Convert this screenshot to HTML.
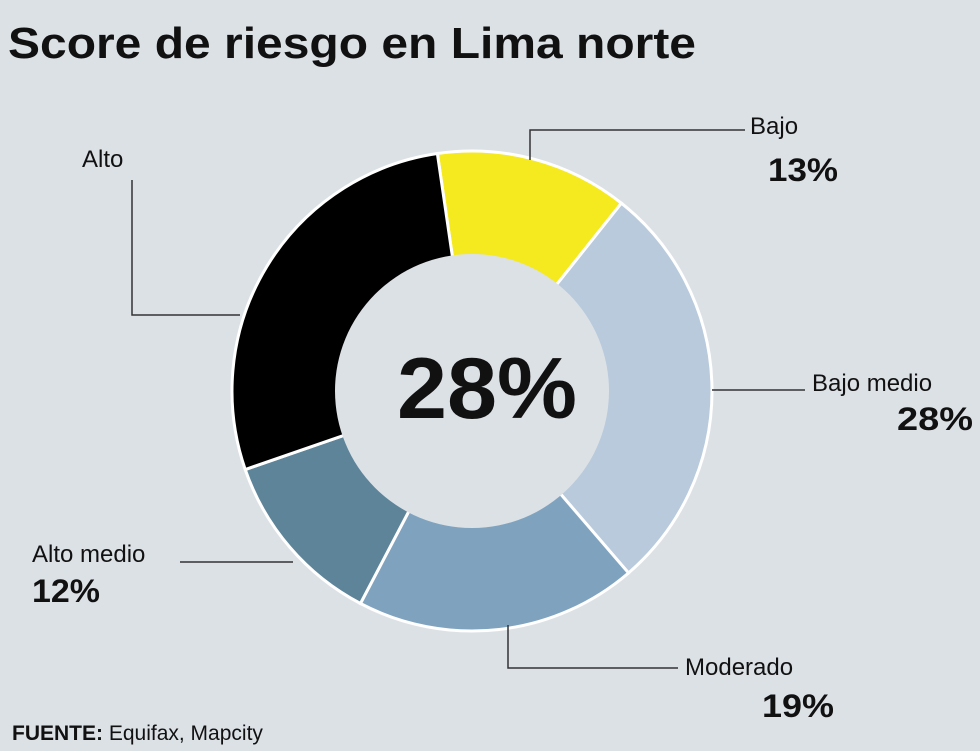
<!DOCTYPE html>
<html><head><meta charset="utf-8"><style>
body{margin:0;background:#dce1e6;}
svg{display:block;font-family:"Liberation Sans",sans-serif;}
</style></head><body>
<svg width="980" height="751" viewBox="0 0 980 751">
<rect width="980" height="751" fill="#dce1e6"/>
<text x="8" y="58" font-size="44" font-weight="bold" fill="#111" textLength="688" lengthAdjust="spacingAndGlyphs">Score de riesgo en Lima norte</text>
<g id="slices"></g>
<circle cx="472" cy="391" r="137" fill="#dce1e6"/>
<text x="397" y="418" font-size="86" font-weight="bold" fill="#111" textLength="180" lengthAdjust="spacingAndGlyphs">28%</text>
<g stroke="#333" stroke-width="1.5" fill="none">
<polyline points="530,160 530,130 745,130"/>
<polyline points="712,390 805,390"/>
<polyline points="508,625 508,668 678,668"/>
<polyline points="293,562 180,562"/>
<polyline points="240,315 132,315 132,180"/>
</g>
<g fill="#111">
<text x="750" y="134" font-size="24">Bajo</text>
<text x="768" y="181" font-size="32" font-weight="bold" textLength="70" lengthAdjust="spacingAndGlyphs">13%</text>
<text x="812" y="391" font-size="24">Bajo medio</text>
<text x="897" y="430" font-size="32" font-weight="bold" textLength="76" lengthAdjust="spacingAndGlyphs">28%</text>
<text x="685" y="675" font-size="24">Moderado</text>
<text x="762" y="717" font-size="32" font-weight="bold" textLength="72" lengthAdjust="spacingAndGlyphs">19%</text>
<text x="32" y="562" font-size="24">Alto medio</text>
<text x="32" y="602" font-size="32" font-weight="bold" textLength="68" lengthAdjust="spacingAndGlyphs">12%</text>
<text x="82" y="167" font-size="24">Alto</text>
<text x="12" y="740" font-size="21"><tspan font-weight="bold">FUENTE:</tspan> Equifax, Mapcity</text>
</g>
</svg>
<script>
const categories=["Bajo","Bajo medio","Moderado","Alto medio","Alto"];
const values=[13,28,19,12,28];
const colors=["#f5e920","#b8cadc","#7fa3bf","#5d8499","#000000"];
const cx=472,cy=391,R=240,startDeg=-8.3;
const g=document.getElementById('slices');
const total=values.reduce((a,b)=>a+b,0);
let a=startDeg;
function pt(deg,r){const t=deg*Math.PI/180;return [cx+r*Math.sin(t),cy-r*Math.cos(t)];}
values.forEach((v,i)=>{
  const a2=a+v/total*360;
  const p1=pt(a,R),p2=pt(a2,R);
  const large=(a2-a)>180?1:0;
  const p=document.createElementNS('http://www.w3.org/2000/svg','path');
  p.setAttribute('d',`M${cx},${cy} L${p1[0]},${p1[1]} A${R},${R} 0 ${large} 1 ${p2[0]},${p2[1]} Z`);
  p.setAttribute('fill',colors[i]);
  p.setAttribute('stroke','#ffffff');
  p.setAttribute('stroke-width','3');
  
  
  g.appendChild(p);
  a=a2;
});
</script>
</body></html>
